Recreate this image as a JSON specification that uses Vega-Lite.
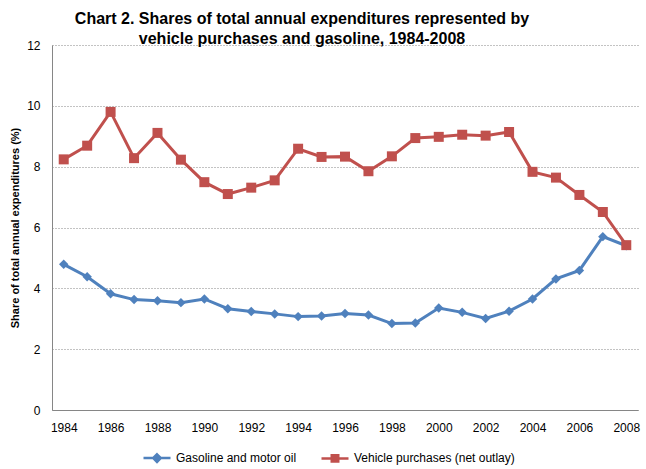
{
  "$schema": "https://vega.github.io/schema/vega-lite/v6.json",
  "width": 586,
  "height": 365,
  "autosize": {"type": "none"},
  "padding": {"left": 52, "top": 45, "right": 8, "bottom": 59},
  "background": "white",
  "title": {
    "text": ["Chart 2. Shares of total annual expenditures represented by", "vehicle purchases and gasoline, 1984-2008"],
    "font": "Liberation Sans",
    "fontSize": 16,
    "fontWeight": "bold",
    "color": "#000000",
    "anchor": "middle",
    "frame": "group",
    "dx": -43,
    "offset": -8,
    "lineHeight": 20
  },
  "datasets": {
    "d": [
      {"year": 1984, "series": "Gasoline and motor oil", "value": 4.79},
      {"year": 1985, "series": "Gasoline and motor oil", "value": 4.38},
      {"year": 1986, "series": "Gasoline and motor oil", "value": 3.82},
      {"year": 1987, "series": "Gasoline and motor oil", "value": 3.63},
      {"year": 1988, "series": "Gasoline and motor oil", "value": 3.59},
      {"year": 1989, "series": "Gasoline and motor oil", "value": 3.53},
      {"year": 1990, "series": "Gasoline and motor oil", "value": 3.65},
      {"year": 1991, "series": "Gasoline and motor oil", "value": 3.33},
      {"year": 1992, "series": "Gasoline and motor oil", "value": 3.24},
      {"year": 1993, "series": "Gasoline and motor oil", "value": 3.16},
      {"year": 1994, "series": "Gasoline and motor oil", "value": 3.07},
      {"year": 1995, "series": "Gasoline and motor oil", "value": 3.09},
      {"year": 1996, "series": "Gasoline and motor oil", "value": 3.17},
      {"year": 1997, "series": "Gasoline and motor oil", "value": 3.12},
      {"year": 1998, "series": "Gasoline and motor oil", "value": 2.84},
      {"year": 1999, "series": "Gasoline and motor oil", "value": 2.86},
      {"year": 2000, "series": "Gasoline and motor oil", "value": 3.35},
      {"year": 2001, "series": "Gasoline and motor oil", "value": 3.21},
      {"year": 2002, "series": "Gasoline and motor oil", "value": 3.01},
      {"year": 2003, "series": "Gasoline and motor oil", "value": 3.25},
      {"year": 2004, "series": "Gasoline and motor oil", "value": 3.65},
      {"year": 2005, "series": "Gasoline and motor oil", "value": 4.31},
      {"year": 2006, "series": "Gasoline and motor oil", "value": 4.59},
      {"year": 2007, "series": "Gasoline and motor oil", "value": 5.70},
      {"year": 2008, "series": "Gasoline and motor oil", "value": 5.40},
      {"year": 1984, "series": "Vehicle purchases (net outlay)", "value": 8.24},
      {"year": 1985, "series": "Vehicle purchases (net outlay)", "value": 8.69},
      {"year": 1986, "series": "Vehicle purchases (net outlay)", "value": 9.80},
      {"year": 1987, "series": "Vehicle purchases (net outlay)", "value": 8.28},
      {"year": 1988, "series": "Vehicle purchases (net outlay)", "value": 9.11},
      {"year": 1989, "series": "Vehicle purchases (net outlay)", "value": 8.23},
      {"year": 1990, "series": "Vehicle purchases (net outlay)", "value": 7.49},
      {"year": 1991, "series": "Vehicle purchases (net outlay)", "value": 7.10},
      {"year": 1992, "series": "Vehicle purchases (net outlay)", "value": 7.31},
      {"year": 1993, "series": "Vehicle purchases (net outlay)", "value": 7.55},
      {"year": 1994, "series": "Vehicle purchases (net outlay)", "value": 8.59},
      {"year": 1995, "series": "Vehicle purchases (net outlay)", "value": 8.32},
      {"year": 1996, "series": "Vehicle purchases (net outlay)", "value": 8.33},
      {"year": 1997, "series": "Vehicle purchases (net outlay)", "value": 7.85},
      {"year": 1998, "series": "Vehicle purchases (net outlay)", "value": 8.34},
      {"year": 1999, "series": "Vehicle purchases (net outlay)", "value": 8.94},
      {"year": 2000, "series": "Vehicle purchases (net outlay)", "value": 8.98},
      {"year": 2001, "series": "Vehicle purchases (net outlay)", "value": 9.05},
      {"year": 2002, "series": "Vehicle purchases (net outlay)", "value": 9.02},
      {"year": 2003, "series": "Vehicle purchases (net outlay)", "value": 9.14},
      {"year": 2004, "series": "Vehicle purchases (net outlay)", "value": 7.83},
      {"year": 2005, "series": "Vehicle purchases (net outlay)", "value": 7.64},
      {"year": 2006, "series": "Vehicle purchases (net outlay)", "value": 7.07},
      {"year": 2007, "series": "Vehicle purchases (net outlay)", "value": 6.51},
      {"year": 2008, "series": "Vehicle purchases (net outlay)", "value": 5.42}
    ]
  },
  "layer": [
    {
      "data": {"name": "d"},
      "transform": [{"filter": {"field": "series", "equal": "Gasoline and motor oil"}}],
      "mark": {"type": "line", "color": "#4F81BD", "strokeWidth": 3, "point": {"shape": "diamond", "size": 90, "filled": true, "color": "#4F81BD", "opacity": 1}},
      "encoding": {
        "x": {"field": "year", "type": "quantitative", "scale": {"domain": [1983.5, 2008.5], "nice": false, "zero": false},
              "axis": {"values": [1984, 1986, 1988, 1990, 1992, 1994, 1996, 1998, 2000, 2002, 2004, 2006, 2008], "format": "d", "grid": false, "labelPadding": 12, "title": null, "labelFlush": false}},
        "y": {"field": "value", "type": "quantitative", "scale": {"domain": [0, 12], "nice": false},
              "axis": {"values": [0, 2, 4, 6, 8, 10, 12], "grid": true, "gridDash": [1, 2], "gridColor": "#868686", "labelPadding": 12,
                       "title": "Share of total annual expenditures (%)", "titleFontSize": 11, "titleFontWeight": "bold", "titleColor": "#000000", "titlePadding": 6}}
      }
    },
    {
      "data": {"name": "d"},
      "transform": [{"filter": {"field": "series", "equal": "Vehicle purchases (net outlay)"}}],
      "mark": {"type": "line", "color": "#C0504D", "strokeWidth": 3, "point": {"shape": "square", "size": 100, "filled": true, "color": "#C0504D", "opacity": 1}},
      "encoding": {
        "x": {"field": "year", "type": "quantitative"},
        "y": {"field": "value", "type": "quantitative"}
      }
    },
    {
      "data": {"values": []},
      "mark": {"type": "point", "filled": true, "opacity": 1},
      "encoding": {
        "fill": {"field": "series", "type": "nominal", "scale": {"domain": ["Gasoline and motor oil", "Vehicle purchases (net outlay)"], "range": ["#4F81BD", "#C0504D"]}},
        "stroke": {"field": "series", "type": "nominal", "scale": {"domain": ["Gasoline and motor oil", "Vehicle purchases (net outlay)"], "range": ["#4F81BD", "#C0504D"]}},
        "shape": {"field": "series", "type": "nominal", "scale": {"domain": ["Gasoline and motor oil", "Vehicle purchases (net outlay)"], "range": ["M-1,0L1,0M0,-0.28L0.28,0L0,0.28L-0.28,0Z", "M-1,0L1,0M-0.24,-0.24L0.24,-0.24L0.24,0.24L-0.24,0.24Z"]}}
      }
    },
    {
      "mark": {"type": "rule", "color": "#868686", "strokeWidth": 1},
      "encoding": {"x": {"datum": 2008.5}}
    }
  ],
  "config": {
    "view": {"stroke": null},
    "axis": {"labelFont": "Liberation Sans", "labelFontSize": 12, "labelColor": "#000000", "titleFont": "Liberation Sans", "domainColor": "#868686", "domainWidth": 1, "ticks": false},
    "legend": {
      "orient": "none",
      "legendX": 90,
      "legendY": 398,
      "direction": "horizontal",
      "title": null,
      "symbolSize": 729,
      "symbolStrokeWidth": 2.5,
      "symbolOpacity": 1,
      "labelFont": "Liberation Sans",
      "labelFontSize": 12,
      "labelColor": "#000000",
      "labelOffset": 4,
      "labelLimit": 400,
      "columnPadding": 19,
      "padding": 0
    }
  }
}
